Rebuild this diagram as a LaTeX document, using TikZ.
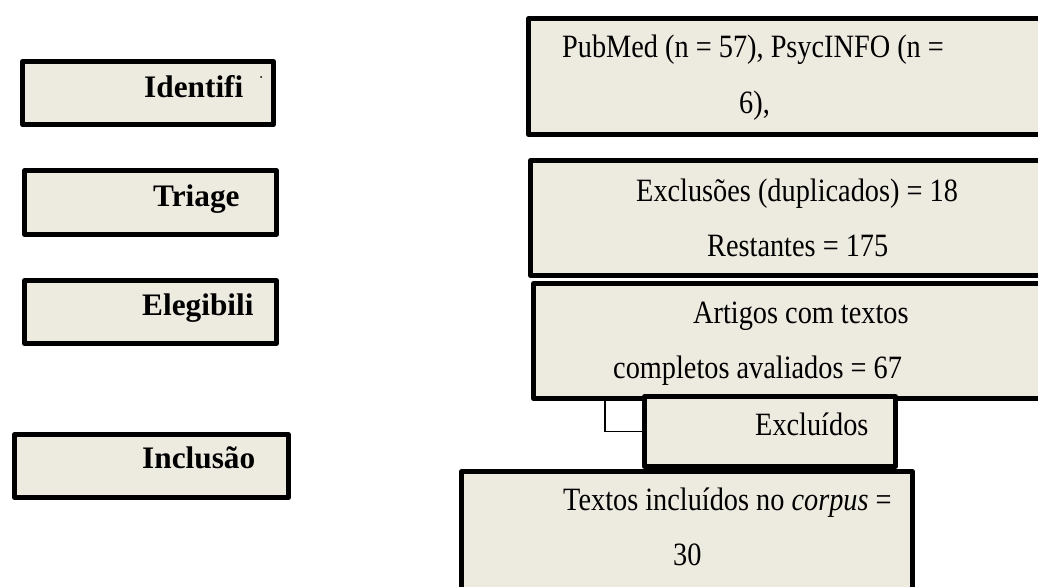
\documentclass[tikz,border=0pt]{standalone}
\usepackage{fontspec}
\usepackage{graphicx}
\setmainfont{Liberation Serif}
\definecolor{boxfill}{RGB}{237,234,224}
\newcommand{\tallline}[1]{\scalebox{1}[1.15]{#1}}
\begin{document}
\begin{tikzpicture}[
  x=1pt, y=-1pt,
  box/.style={rectangle, draw, line width=4.5pt, line join=round, fill=boxfill, inner sep=0pt},
  stage/.style={anchor=base west, inner sep=0pt, font=\fontsize{31.3}{36}\selectfont\bfseries},
  txt/.style={anchor=base west, inner sep=0pt, font=\fontsize{28.3}{34}\selectfont},
  link/.style={draw, line width=1.5pt}
]
  \useasboundingbox (0,0) rectangle (1038,586);
  \clip (0,0) rectangle (1038,586);
  \fill[white] (0,0) rectangle (1038,586);

  \node[box, minimum width=251pt, minimum height=63pt] (bid) at (148,93) {};
  \node[box, minimum width=252pt, minimum height=64pt] (btr) at (150.5,202.5) {};
  \node[box, minimum width=252pt, minimum height=63pt] (bel) at (150.5,312) {};
  \node[box, minimum width=274pt, minimum height=63pt] (bin) at (151.5,466) {};
  \node[stage] (tid) at (144,97) {Identifi};
  \node[stage] (ttr) at (153,206) {Triage};
  \node[stage] (tel) at (142,315) {Elegibili};
  \node[stage] (tin) at (142,468) {Inclusão};
  \fill (261,77) circle (1pt);

  \node[box, minimum width=521pt, minimum height=116pt] (src) at (789,76.5) {};
  \node[box, minimum width=519.5pt, minimum height=115pt] (dup) at (790,218) {};
  \node[box, minimum width=516.5pt, minimum height=115pt] (elig) at (791.75,341) {};
  \node[box, minimum width=251pt, minimum height=70pt] (excl) at (770,431.5) {};
  \node[box, minimum width=451pt, minimum height=137pt] (incl) at (687,540) {};
  \draw[link] ([xshift=73.5pt]elig.south west) |- (excl.west);

  \node[txt] (s1) at (562,58) {\tallline{PubMed (n = 57), PsycINFO (n =}};
  \node[txt] (s2) at (739,113) {\tallline{6),}};
  \node[txt] (d1) at (636,201) {\tallline{Exclusões (duplicados) = 18}};
  \node[txt] (d2) at (707,256) {\tallline{Restantes = 175}};
  \node[txt] (e1) at (693,323) {\tallline{Artigos com textos}};
  \node[txt] (e2) at (613,378) {\tallline{completos avaliados = 67}};
  \node[txt] (x1) at (755,435) {\tallline{Excluídos}};
  \node[txt] (i1) at (563,510) {\tallline{Textos incluídos no \textit{corpus} =}};
  \node[txt] (i2) at (673,565) {\tallline{30}};
\end{tikzpicture}
\end{document}
